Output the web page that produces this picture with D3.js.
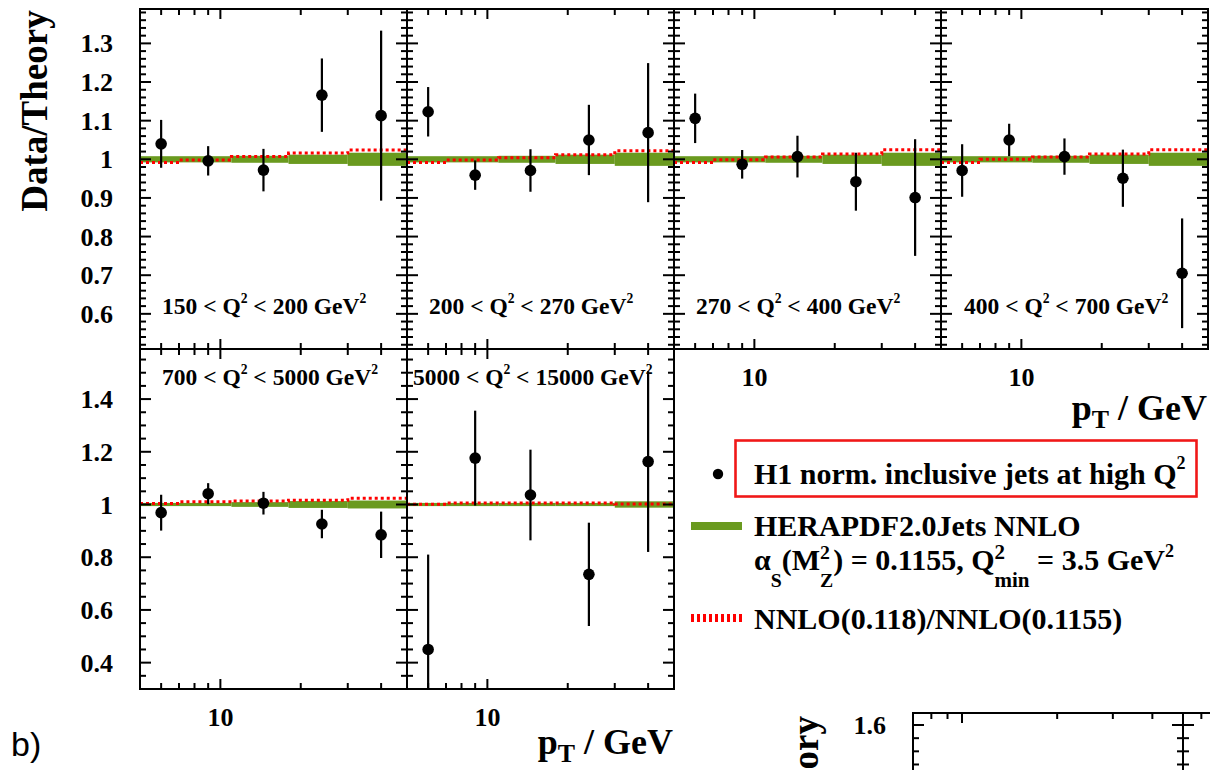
<!DOCTYPE html>
<html>
<head>
<meta charset="utf-8">
<script src="https://cdn.jsdelivr.net/npm/d3@7"></script>
<style>
  body { margin: 0; background: #fff; }
  svg text { font-family: "Liberation Serif", "Times New Roman", serif; font-weight: bold; fill: #000; white-space: pre; }
</style>
</head>
<body>
<svg id="chart" width="1210" height="770"></svg>
<script>
// ---- data -------------------------------------------------------------
// jet transverse-momentum bins (GeV) and their centres
const ptEdges = [5, 7, 11, 18, 30, 50];
const ptCenters = [6, 9, 14.5, 24, 40];

// Q^2 ranges of the six panels (GeV^2)
const q2Low  = [150, 200, 270, 400, 700, 5000];
const q2High = [200, 270, 400, 700, 5000, 15000];

// H1 normalised inclusive jets, data / theory, with total uncertainty
const ratioQ2a = [1.040, 0.996, 0.972, 1.166, 1.113];
const ratioQ2b = [1.123, 0.959, 0.971, 1.050, 1.069];
const ratioQ2c = [1.106, 0.987, 1.007, 0.942, 0.901];
const ratioQ2d = [0.971, 1.050, 1.007, 0.951, 0.705];
const ratioQ2e = [0.969, 1.041, 1.005, 0.926, 0.885];
const ratioQ2f = [0.450, 1.176, 1.036, 0.735, 1.163];

const errQ2a = [0.062, 0.038, 0.055, 0.095, 0.220];
const errQ2b = [0.064, 0.038, 0.055, 0.091, 0.180];
const errQ2c = [0.064, 0.037, 0.054, 0.075, 0.151];
const errQ2d = [0.068, 0.042, 0.047, 0.074, 0.142];
const errQ2e = [0.068, 0.040, 0.043, 0.054, 0.088];
const errQ2f = [0.360, 0.180, 0.172, 0.196, 0.343];

// HERAPDF2.0Jets NNLO uncertainty (half width of the band around 1)
const bandQ2a = [0.008, 0.008, 0.009, 0.012, 0.017];
const bandQ2b = [0.008, 0.008, 0.009, 0.012, 0.017];
const bandQ2c = [0.008, 0.008, 0.009, 0.012, 0.017];
const bandQ2d = [0.008, 0.008, 0.009, 0.012, 0.017];
const bandQ2e = [0.006, 0.006, 0.009, 0.013, 0.015];
const bandQ2f = [0.006, 0.006, 0.006, 0.006, 0.012];

// NNLO(alpha_s = 0.118) / NNLO(alpha_s = 0.1155)
const altQ2a = [0.992, 0.998, 1.007, 1.016, 1.024];
const altQ2b = [0.992, 0.998, 1.004, 1.012, 1.022];
const altQ2c = [0.992, 0.999, 1.006, 1.014, 1.025];
const altQ2d = [0.992, 1.000, 1.006, 1.014, 1.025];
const altQ2e = [1.004, 1.010, 1.013, 1.016, 1.024];
const altQ2f = [1.001, 1.006, 1.006, 1.006, 1.002];

// axis ticks
const yMajorTop = [0.6, 0.7, 0.8, 0.9, 1, 1.1, 1.2, 1.3];
const yMajorBottom = [0.4, 0.6, 0.8, 1, 1.2, 1.4];
const xMajorTicks = [10];
const xMinorTicks = [6, 7, 8, 9, 20, 30, 40];

// ---- layout -----------------------------------------------------------
const ratios = [ratioQ2a, ratioQ2b, ratioQ2c, ratioQ2d, ratioQ2e, ratioQ2f];
const errs   = [errQ2a, errQ2b, errQ2c, errQ2d, errQ2e, errQ2f];
const bands  = [bandQ2a, bandQ2b, bandQ2c, bandQ2d, bandQ2e, bandQ2f];
const alts   = [altQ2a, altQ2b, altQ2c, altQ2d, altQ2e, altQ2f];

const W = 1210, H = 770;
const panelW = 267, panelH = 340;
const left0 = 140;
const rowTop = [9, 349];
const rows = [
  { domain: [0.509, 1.389], major: yMajorTop, minorStep: 0.02 },
  { domain: [0.300, 1.590], major: yMajorBottom, minorStep: 0.05 }
];
const panels = [
  { col: 0, row: 0, labelDx: 22, labelY: 305, yLabels: true,  xLabels: false },
  { col: 1, row: 0, labelDx: 22, labelY: 305, yLabels: false, xLabels: false },
  { col: 2, row: 0, labelDx: 22, labelY: 305, yLabels: false, xLabels: true },
  { col: 3, row: 0, labelDx: 23, labelY: 305, yLabels: false, xLabels: true },
  { col: 0, row: 1, labelDx: 22, labelY: 36,  yLabels: true,  xLabels: true },
  { col: 1, row: 1, labelDx: 6,  labelY: 36,  yLabels: false, xLabels: true }
];

const GREEN = "#6a9a1f";
const RED = "#ff0000";
const LW = 2;

const svg = d3.select("#chart");
const defs = svg.append("defs");

// Text with super/subscripts laid out piece by piece.
function richText(parent, x, y, parts, size) {
  const g = parent.append("g");
  let cx = x;
  parts.forEach(p => {
    if (p.t !== undefined) {
      const t = g.append("text").attr("x", cx).attr("y", y)
        .attr("font-size", size).attr("xml:space", "preserve").text(p.t);
      cx += t.node().getComputedTextLength();
    } else {
      const ss = size * (p.scale || 0.62);
      let w = 0;
      const stacked = p.sup !== undefined && p.sub !== undefined;
      if (p.sup !== undefined) {
        const t = g.append("text").attr("x", cx)
          .attr("y", y - size * (p.rise !== undefined ? p.rise : (stacked ? 0.36 : 0.45)))
          .attr("font-size", ss).text(p.sup);
        w = Math.max(w, t.node().getComputedTextLength());
      }
      if (p.sub !== undefined) {
        const t = g.append("text").attr("x", cx)
          .attr("y", y + size * (p.drop !== undefined ? p.drop : 0.3))
          .attr("font-size", ss).text(p.sub);
        w = Math.max(w, t.node().getComputedTextLength());
      }
      cx += w + (p.gap || 0);
    }
  });
  return { g, width: cx - x };
}

// Frame with inward ticks on all four sides.
function drawFrame(g, x, y, yMajor, yMinor, x0, x1, y0, y1) {
  g.append("rect").attr("x", x0).attr("y", y0)
    .attr("width", x1 - x0).attr("height", y1 - y0)
    .attr("fill", "none").attr("stroke", "#000").attr("stroke-width", LW);
  const ticks = [];
  yMajor.forEach(v => ticks.push({ v, len: 11, axis: "y" }));
  yMinor.forEach(v => ticks.push({ v, len: 6, axis: "y" }));
  xMajorTicks.forEach(v => ticks.push({ v, len: 10, axis: "x" }));
  xMinorTicks.forEach(v => ticks.push({ v, len: 6, axis: "x" }));
  const segs = [];
  ticks.forEach(t => {
    if (t.axis === "y") {
      const py = y(t.v);
      if (py <= y0 + 1 || py >= y1 - 1) return;
      segs.push([x0, py, x0 + t.len, py], [x1, py, x1 - t.len, py]);
    } else {
      const px = x(t.v);
      if (px <= x0 + 1 || px >= x1 - 1) return;
      segs.push([px, y1, px, y1 - t.len], [px, y0, px, y0 + t.len]);
    }
  });
  g.selectAll(null).data(segs).join("line")
    .attr("x1", d => d[0]).attr("y1", d => d[1])
    .attr("x2", d => d[2]).attr("y2", d => d[3])
    .attr("stroke", "#000").attr("stroke-width", LW);
}

function minorTicks(domain, step, major) {
  const out = [];
  const start = Math.ceil(domain[0] / step - 1e-9);
  const stop = Math.floor(domain[1] / step + 1e-9);
  for (let k = start; k <= stop; k++) {
    const v = +(k * step).toFixed(4);
    if (!major.some(m => Math.abs(m - v) < 1e-6)) out.push(v);
  }
  return out;
}

// ---- panels -----------------------------------------------------------
panels.forEach((p, i) => {
  const row = rows[p.row];
  const x0 = left0 + p.col * panelW, x1 = x0 + panelW;
  const y0 = rowTop[p.row], y1 = y0 + panelH;
  const x = d3.scaleLog().domain([ptEdges[0], ptEdges[ptEdges.length - 1]]).range([x0, x1]);
  const y = d3.scaleLinear().domain(row.domain).range([y1, y0]);

  const clipId = "clip" + i;
  defs.append("clipPath").attr("id", clipId).append("rect")
    .attr("x", x0).attr("y", y0).attr("width", panelW).attr("height", panelH);

  const g = svg.append("g");
  const inner = g.append("g").attr("clip-path", `url(#${clipId})`);

  // theory uncertainty band
  inner.selectAll(null).data(bands[i]).join("rect")
    .attr("x", (d, j) => x(ptEdges[j]))
    .attr("width", (d, j) => x(ptEdges[j + 1]) - x(ptEdges[j]))
    .attr("y", d => y(1 + d))
    .attr("height", d => y(1 - d) - y(1 + d))
    .attr("fill", GREEN);

  // alpha_s variation as dotted histogram
  const stepPts = [];
  alts[i].forEach((v, j) => { stepPts.push([ptEdges[j], v], [ptEdges[j + 1], v]); });
  inner.append("path")
    .attr("d", d3.line().x(d => x(d[0])).y(d => y(d[1]))(stepPts))
    .attr("fill", "none").attr("stroke", RED).attr("stroke-width", 3)
    .attr("stroke-dasharray", "3,3");

  // data points with error bars
  const pts = ptCenters.map((c, j) => ({ c, v: ratios[i][j], e: errs[i][j] }));
  inner.selectAll(null).data(pts).join("line")
    .attr("x1", d => x(d.c)).attr("x2", d => x(d.c))
    .attr("y1", d => y(d.v - d.e)).attr("y2", d => y(d.v + d.e))
    .attr("stroke", "#000").attr("stroke-width", 2.2);
  inner.selectAll(null).data(pts).join("circle")
    .attr("cx", d => x(d.c)).attr("cy", d => y(d.v)).attr("r", 5.8)
    .attr("fill", "#000");

  drawFrame(g, x, y, row.major, minorTicks(row.domain, row.minorStep, row.major), x0, x1, y0, y1);

  // Q^2 range label
  richText(g, x0 + p.labelDx, y0 + p.labelY, [
    { t: `${q2Low[i]} < Q` }, { sup: "2", scale: 0.58 },
    { t: ` < ${q2High[i]} GeV` }, { sup: "2", scale: 0.58 }
  ], 23.5);

  if (p.yLabels) {
    g.selectAll(null).data(row.major).join("text")
      .attr("x", x0 - 27).attr("y", d => y(d)).attr("dy", "0.35em")
      .attr("text-anchor", "end").attr("font-size", 26)
      .text(d => d3.format("~g")(d));
  }
  if (p.xLabels) {
    g.selectAll(null).data(xMajorTicks).join("text")
      .attr("x", d => x(d)).attr("y", y1 + 37)
      .attr("text-anchor", "middle").attr("font-size", 26)
      .text(d => d);
  }
});

// ---- axis titles ------------------------------------------------------
svg.append("text")
  .attr("transform", "translate(47,111) rotate(-90)")
  .attr("text-anchor", "middle").attr("font-size", 37)
  .text("Data/Theory");

function ptTitle(rightX, baseY) {
  const r = richText(svg, 0, baseY, [
    { t: "p" }, { sub: "T", scale: 0.72, drop: 0.22 }, { t: " / GeV" }
  ], 36);
  r.g.attr("transform", `translate(${rightX - r.width},0)`);
}
ptTitle(1207, 420);
ptTitle(673, 754);

// ---- legend -----------------------------------------------------------
const leg = svg.append("g");
leg.append("rect").attr("x", 735.5).attr("y", 440.5).attr("width", 461).attr("height", 56)
  .attr("fill", "none").attr("stroke", "#f01818").attr("stroke-width", 2.6);
leg.append("circle").attr("cx", 718).attr("cy", 474).attr("r", 5.2).attr("fill", "#000");
richText(leg, 754, 484, [
  { t: "H1 norm. inclusive jets at high Q" }, { sup: "2", scale: 0.6, rise: 0.5 }
], 30);

leg.append("line").attr("x1", 691).attr("x2", 742).attr("y1", 526).attr("y2", 526)
  .attr("stroke", GREEN).attr("stroke-width", 8);
richText(leg, 754, 536, [{ t: "HERAPDF2.0Jets NNLO" }], 30);
richText(leg, 754, 570, [
  { t: "α" }, { sub: "S", scale: 0.66, drop: 0.55 },
  { t: "(M" }, { sup: "2", sub: "Z", scale: 0.66, drop: 0.58, rise: 0.36 },
  { t: ") = 0.1155, Q" }, { sup: "2", sub: "min", scale: 0.7, drop: 0.58, rise: 0.36 },
  { t: " = 3.5 GeV" }, { sup: "2", scale: 0.6, rise: 0.45 }
], 30);

leg.append("line").attr("x1", 691).attr("x2", 742).attr("y1", 618).attr("y2", 618)
  .attr("stroke", RED).attr("stroke-width", 8).attr("stroke-dasharray", "3,3");
richText(leg, 754, 629, [{ t: "NNLO(0.118)/NNLO(0.1155)" }], 30);

// ---- panel label ------------------------------------------------------
svg.append("text").attr("x", 11).attr("y", 756)
  .attr("font-size", 34)
  .style("font-family", "'Liberation Sans', Arial, sans-serif")
  .style("font-weight", "normal")
  .text("b)");

// ---- neighbouring figure (top edge only) -------------------------------
(function () {
  const nbTop = 713, nbLeft = 913, nbW = 270, nbH = 340;
  const yN = d3.scaleLinear().domain([0.354, 1.6456]).range([nbTop + nbH, nbTop]);
  const nbMajor = [1.6, 1.4, 1.2, 1, 0.8, 0.6, 0.4];
  [0, 1].forEach(k => {
    const x0 = nbLeft + k * nbW, x1 = x0 + nbW;
    const xN = d3.scaleLog().domain([7, 50]).range([x0, x1]);
    drawFrame(svg.append("g"), xN, yN, nbMajor, minorTicks([0.354, 1.6456], 0.05, nbMajor),
      x0, x1, nbTop, nbTop + nbH);
  });
  svg.append("text").attr("x", nbLeft - 27).attr("y", yN(1.6)).attr("dy", "0.35em")
    .attr("text-anchor", "end").attr("font-size", 26).text("1.6");
  svg.append("text")
    .attr("transform", `translate(818,716) rotate(-90)`)
    .attr("text-anchor", "end").attr("font-size", 37)
    .text("Data/Theory");
})();
</script>
</body>
</html>
